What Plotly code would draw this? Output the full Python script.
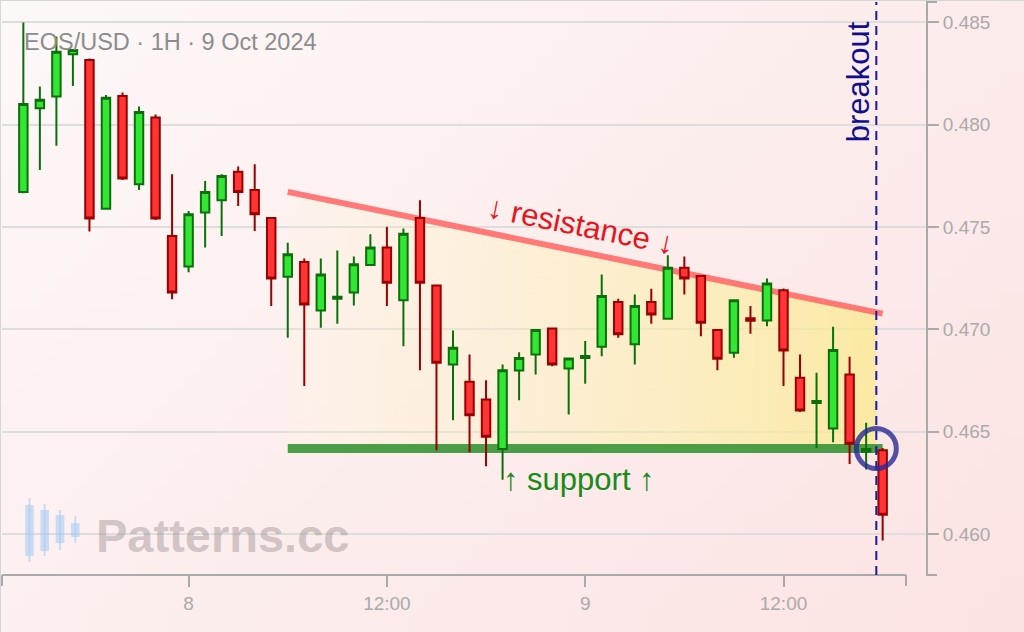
import base64
import struct
import zlib

import numpy as np
import pandas as pd
import plotly.graph_objects as go

# EOS/USD 1시간봉 (2024-10-07 14:00 ~ 2024-10-09 18:00)
times = pd.date_range('2024-10-07 14:00', periods=53, freq='h')

opens = [0.47672, 0.48081, 0.48138, 0.48345, 0.48317, 0.47590, 0.48141, 0.47709, 0.48036, 0.47456,
         0.47307, 0.47571, 0.47631, 0.47770, 0.47681, 0.47545, 0.47258, 0.47329, 0.47093, 0.47150,
         0.47180, 0.47315, 0.47400, 0.47142, 0.47545, 0.47215, 0.46829, 0.46744, 0.46658, 0.46416,
         0.46799, 0.46878, 0.47005, 0.46809, 0.46860, 0.46915, 0.47134, 0.46927, 0.47134, 0.47052,
         0.47302, 0.47261, 0.46997, 0.46886, 0.47055, 0.47044, 0.47192, 0.46764, 0.46640, 0.46516,
         0.46780, 0.46402, 0.46410]
highs = [0.48500, 0.48187, 0.48432, 0.48370, 0.48324, 0.48146, 0.48158, 0.48089, 0.48050, 0.47758,
         0.47579, 0.47725, 0.47758, 0.47796, 0.47807, 0.47550, 0.47424, 0.47346, 0.47346, 0.47386,
         0.47356, 0.47465, 0.47502, 0.47493, 0.47631, 0.47218, 0.46995, 0.46878, 0.46752, 0.46829,
         0.46889, 0.47000, 0.47008, 0.46860, 0.46943, 0.47269, 0.47150, 0.47171, 0.47199, 0.47363,
         0.47356, 0.47266, 0.47000, 0.47147, 0.47114, 0.47249, 0.47200, 0.46878, 0.46788, 0.47013,
         0.46866, 0.46544, 0.46421]
lows = [0.47665, 0.47779, 0.47897, 0.48190, 0.47478, 0.47585, 0.47730, 0.47681, 0.47535, 0.47147,
        0.47280, 0.47400, 0.47456, 0.47603, 0.47481, 0.47114, 0.46959, 0.46723, 0.47008, 0.47028,
        0.47117, 0.47310, 0.47114, 0.46918, 0.46801, 0.46410, 0.46556, 0.46400, 0.46331, 0.46266,
        0.46654, 0.46780, 0.46820, 0.46584, 0.46734, 0.46869, 0.46959, 0.46829, 0.47028, 0.47048,
        0.47171, 0.46967, 0.46801, 0.46862, 0.46979, 0.47016, 0.46723, 0.46596, 0.46421, 0.46449,
        0.46343, 0.46315, 0.45969]
closes = [0.48101, 0.48122, 0.48357, 0.48366, 0.47542, 0.48132, 0.47737, 0.48063, 0.47542, 0.47180,
          0.47563, 0.47672, 0.47750, 0.47672, 0.47563, 0.47249, 0.47367, 0.47122, 0.47269, 0.47160,
          0.47318, 0.47400, 0.47228, 0.47468, 0.47228, 0.46837, 0.46910, 0.46581, 0.46475, 0.46801,
          0.46860, 0.46997, 0.46829, 0.46858, 0.46870, 0.47163, 0.46976, 0.47114, 0.47073, 0.47302,
          0.47249, 0.47033, 0.46857, 0.47143, 0.47043, 0.47224, 0.46897, 0.46604, 0.46650, 0.46899,
          0.46441, 0.46416, 0.46095]

# 패턴 선 (저항 / 지지)
resistance_x = ['2024-10-08 06:00', '2024-10-09 18:00']
resistance_y = [0.47672, 0.47077]
support_x = ['2024-10-08 06:00', '2024-10-09 18:00']
support_y = [0.46418, 0.46418]
breakout_time = '2024-10-09 17:37'

# 축 눈금
x_tick_vals = ['2024-10-08 00:00', '2024-10-08 12:00', '2024-10-09 00:00', '2024-10-09 12:00']
x_tick_text = ['8', '12:00', '9', '12:00']
y_tick_vals = [0.460, 0.465, 0.470, 0.475, 0.480, 0.485]
y_tick_text = ['0.460', '0.465', '0.470', '0.475', '0.480', '0.485']

x_range = ['2024-10-07 12:42:29', '2024-10-09 20:37:23']
y_range = [0.4580, 0.4860]

FONT = 'Liberation Sans, Arial, sans-serif'
AXIS_GRAY = '#aaaaaa'


# 픽셀 -> paper 좌표 (plot 영역: x 2..926, y 2..575)
def px(x):
    return (x - 2) / 924


def py(y):
    return (575 - y) / 573


# 배경 그라데이션용 작은 PNG
def gradient_png(w, h):
    c0 = (253, 248, 248)
    c1 = (252, 227, 227)
    rows = []
    for j in range(h):
        row = bytearray(b'\x00')
        for i in range(w):
            t = 0.6 * i / (w - 1) + 0.4 * j / (h - 1)
            row += bytes(round(a + (b - a) * t) for a, b in zip(c0, c1))
        rows.append(bytes(row))

    def chunk(tag, data):
        return struct.pack('>I', len(data)) + tag + data + struct.pack('>I', zlib.crc32(tag + data) & 0xffffffff)

    png = (b'\x89PNG\r\n\x1a\n'
           + chunk(b'IHDR', struct.pack('>IIBBBBB', w, h, 8, 2, 0, 0, 0))
           + chunk(b'IDAT', zlib.compress(b''.join(rows)))
           + chunk(b'IEND', b''))
    return 'data:image/png;base64,' + base64.b64encode(png).decode()


fig = go.Figure()

# 삼각형 영역 채우기 (아래 축)
t_res = pd.to_datetime(resistance_x)
t_brk = pd.Timestamp(breakout_time)
res_at_brk = np.interp(t_brk.value, [t.value for t in t_res], resistance_y)
fig.add_trace(go.Scatter(
    x=[t_res[0], t_brk, t_brk, t_res[0]],
    y=[resistance_y[0], res_at_brk, support_y[0], support_y[0]],
    fill='toself', mode='none',
    fillgradient=dict(type='horizontal',
                      colorscale=[[0, 'rgba(255,248,205,0.15)'], [1, 'rgba(250,234,140,0.75)']]),
    hoverinfo='skip', showlegend=False))

fig.add_trace(go.Scatter(
    x=support_x, y=support_y, mode='lines',
    line=dict(color='rgba(55,148,55,0.9)', width=9),
    hoverinfo='skip', showlegend=False))

fig.add_trace(go.Scatter(
    x=resistance_x, y=resistance_y, mode='lines',
    line=dict(color='rgba(255,100,100,0.85)', width=6),
    hoverinfo='skip', showlegend=False))

# 캔들은 위쪽 겹친 축에 그려서 채우기/선 위로 오게 함
fig.add_trace(go.Candlestick(
    x=times, open=opens, high=highs, low=lows, close=closes,
    xaxis='x2', yaxis='y2',
    increasing=dict(fillcolor='#33e633', line=dict(color='#0b700b', width=2)),
    decreasing=dict(fillcolor='#ff3535', line=dict(color='#990000', width=2)),
    whiskerwidth=0, hoverinfo='skip', showlegend=False))

shapes = [
    # 페이지 테두리
    dict(type='line', xref='paper', yref='paper', x0=px(0), x1=px(1024), y0=py(0.5), y1=py(0.5),
         line=dict(color='#d6d6d6', width=1)),
    dict(type='line', xref='paper', yref='paper', x0=px(0.5), x1=px(0.5), y0=py(0), y1=py(632),
         line=dict(color='#d6d6d6', width=1)),
    # x축 선과 양 끝 눈금
    dict(type='line', xref='paper', yref='paper', x0=0, x1=px(906), y0=0, y1=0,
         line=dict(color=AXIS_GRAY, width=2)),
    dict(type='line', xref='paper', yref='paper', ysizemode='pixel', yanchor=0,
         x0=0, x1=0, y0=0, y1=-11, line=dict(color=AXIS_GRAY, width=2)),
    dict(type='line', xref='paper', yref='paper', ysizemode='pixel', yanchor=0,
         x0=px(906), x1=px(906), y0=0, y1=-11, line=dict(color=AXIS_GRAY, width=2)),
    # y축 양 끝 눈금
    dict(type='line', xref='paper', yref='paper', xsizemode='pixel', xanchor=1,
         x0=0, x1=11, y0=1, y1=1, line=dict(color=AXIS_GRAY, width=2)),
    dict(type='line', xref='paper', yref='paper', xsizemode='pixel', xanchor=1,
         x0=0, x1=11, y0=0, y1=0, line=dict(color=AXIS_GRAY, width=2)),
    # breakout 점선
    dict(type='line', xref='x', yref='paper', x0=breakout_time, x1=breakout_time, y0=0, y1=1,
         line=dict(color='#1a1a9c', width=2, dash='9px,6px')),
    # breakout 원
    dict(type='circle', xref='x', yref='y', xsizemode='pixel', ysizemode='pixel',
         xanchor=breakout_time, yanchor=support_y[0], x0=-20, x1=20, y0=-20, y1=20,
         line=dict(color='rgba(40,40,150,0.8)', width=5)),
]

# 워터마크 로고 (작은 캔들 4개)
logo = [(29.5, 505, 556, 498, 562), (44.7, 510, 551, 504, 556),
        (60, 515, 543, 510, 550), (75.3, 523, 537, 516, 543)]
for cx, b0, b1, w0, w1 in logo:
    shapes.append(dict(type='line', xref='paper', yref='paper', x0=px(cx), x1=px(cx),
                       y0=py(w0), y1=py(w1), line=dict(color='rgba(170,205,245,0.6)', width=2)))
    shapes.append(dict(type='rect', xref='paper', yref='paper', x0=px(cx - 4.3), x1=px(cx + 4.3),
                       y0=py(b0), y1=py(b1), line=dict(width=0), fillcolor='rgba(170,205,245,0.6)'))

annotations = [
    dict(text='EOS/USD · 1H · 9 Oct 2024', xref='paper', yref='paper', x=px(22), y=py(42),
         xanchor='left', yanchor='middle', showarrow=False,
         font=dict(family=FONT, size=23.5, color='#8c8c8c')),
    dict(text='<b>Patterns.cc</b>', xref='paper', yref='paper', x=px(94), y=py(535),
         xanchor='left', yanchor='middle', showarrow=False,
         font=dict(family=FONT, size=47, color='rgba(140,128,128,0.4)')),
    dict(text='↓ resistance ↓', xref='x', yref='y', x='2024-10-08 23:45', y=0.47506,
         textangle=11.5, showarrow=False,
         font=dict(family=FONT, size=31, color='#e8141c')),
    dict(text='↑ support ↑', xref='x', yref='y', x='2024-10-08 23:39', y=0.46265,
         showarrow=False, font=dict(family=FONT, size=31, color='#1a8a1a')),
    dict(text='breakout', xref='x', yref='paper', x=breakout_time, y=py(82),
         xanchor='center', yanchor='middle', xshift=-18, textangle=-90, showarrow=False,
         font=dict(family=FONT, size=31, color='#10108c')),
]

fig.update_layout(
    width=1024, height=632,
    margin=dict(l=2, r=98, t=2, b=57),
    paper_bgcolor='#fdeeee', plot_bgcolor='rgba(0,0,0,0)',
    showlegend=False, boxgap=0.27,
    font=dict(family=FONT),
    images=[dict(source=gradient_png(64, 40), xref='paper', yref='paper',
                 x=px(0), y=py(0), sizex=1024 / 924, sizey=632 / 573,
                 xanchor='left', yanchor='top', sizing='stretch', layer='below')],
    xaxis=dict(type='date', range=x_range, rangeslider=dict(visible=False),
               tickvals=x_tick_vals, ticktext=x_tick_text,
               ticks='outside', ticklen=11, tickwidth=2, tickcolor=AXIS_GRAY,
               tickfont=dict(size=19, color=AXIS_GRAY),
               showgrid=False, showline=False, zeroline=False, fixedrange=True),
    yaxis=dict(side='right', range=y_range, tickvals=y_tick_vals, ticktext=y_tick_text,
               ticks='outside', ticklen=11, tickwidth=2, tickcolor=AXIS_GRAY,
               tickfont=dict(size=19, color=AXIS_GRAY),
               showline=True, linecolor=AXIS_GRAY, linewidth=2,
               showgrid=True, gridcolor='#dddddd', gridwidth=1.5, zeroline=False, fixedrange=True),
    xaxis2=dict(type='date', overlaying='x', range=x_range, visible=False,
                rangeslider=dict(visible=False), fixedrange=True),
    yaxis2=dict(overlaying='y', range=y_range, visible=False, fixedrange=True),
    shapes=shapes,
    annotations=annotations,
)

# 페이지 기본 여백(8px) 제거, 모드바 숨김
fig.write_html('out.html', config={'displayModeBar': False},
               post_script="document.body.style.margin='0';")
